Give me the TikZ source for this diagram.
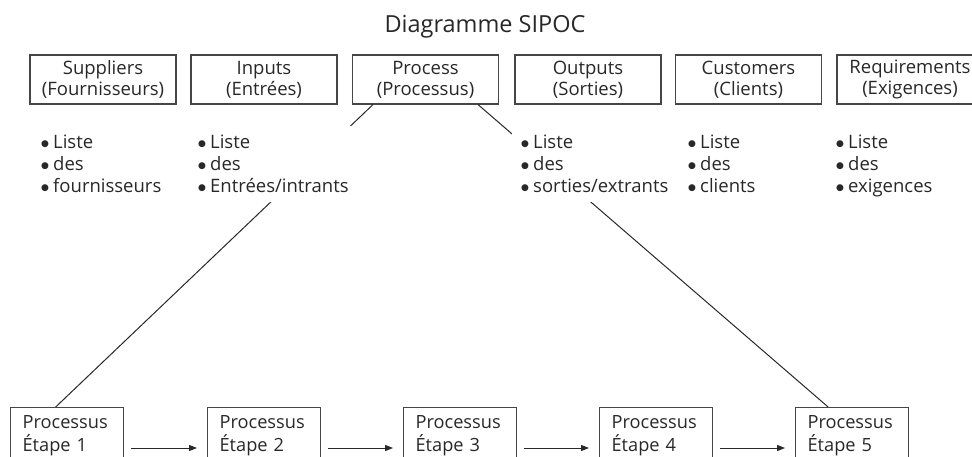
\documentclass[tikz,border=0pt]{standalone}
\usepackage{fontspec}
\setmainfont{Open Sans}
\newfontfamily\dotfont{DejaVu Sans}
\usetikzlibrary{calc,arrows.meta}
\definecolor{ink}{RGB}{40,40,40}
\definecolor{frame}{RGB}{70,70,70}
\newcommand{\bul}{\makebox[12pt][l]{\raisebox{2pt}{\dotfont\fontsize{9}{9}\selectfont ●}}}
\begin{document}
\begin{tikzpicture}[x=1pt,y=-1pt,
  every node/.style={text=ink},
  catbox/.style={draw=frame,line width=1.2pt,minimum width=146pt,minimum height=49pt,
    inner sep=0pt,align=center,font=\fontsize{18.5}{21}\selectfont},
  bullets/.style={anchor=north west,fill=white,inner sep=9pt,align=left,
    font=\fontsize{18.5}{22}\selectfont},
  stepbox/.style={draw=frame,line width=1.2pt,anchor=north west,text width=89pt,
    inner xsep=12pt,inner ysep=8pt,align=left,
    font=\fontsize{18.2}{23}\selectfont},
  link/.style={draw=ink,line width=1pt},
  flow/.style={draw=ink,line width=1pt,-{Triangle[length=8pt,width=6pt]}}]
\useasboundingbox (0,0) rectangle (972,457);
\clip (0,0) rectangle (972,457);

% title
\node[font=\fontsize{23.5}{28}\selectfont] (title) at (485,27) {Diagramme SIPOC};

% SIPOC categories
\node[catbox] (sup) at (103,79.5) {Suppliers\\(Fournisseurs)};
\node[catbox] (inp) at (264,79.5) {Inputs\\(Entrées)};
\node[catbox] (proc) at (425.5,79.5) {Process\\(Processus)};
\node[catbox] (out) at (588,79.5) {Outputs\\(Sorties)};
\node[catbox] (cust) at (748.5,79.5) {Customers\\(Clients)};
\node[catbox] (req) at (910,79.5) {Requirements\\(Exigences)};

% process steps
\node[stepbox] (s1) at (10,407) {Processus\\Étape 1};
\node[stepbox] (s2) at (207,407) {Processus\\Étape 2};
\node[stepbox] (s3) at (403,407) {Processus\\Étape 3};
\node[stepbox] (s4) at (599,407) {Processus\\Étape 4};
\node[stepbox] (s5) at (795,407) {Processus\\Étape 5};

% links from the process box down to the first and last steps
\draw[link] ($(proc.south west)!0.143!(proc.south east)$) -- ($(s1.north west)!0.40!(s1.north east)$);
\draw[link] ($(proc.south west)!0.857!(proc.south east)$) -- ($(s5.north west)!0.29!(s5.north east)$);

% flow between steps
\foreach \a/\b in {s1/s2,s2/s3,s3/s4,s4/s5}
  \draw[flow] ($(\a.north east)+(7,41)$) -- ($(\b.north west)+(-10,41)$);

% bullet lists (white fill hides the links behind them)
\node[bullets] (lsup) at (32,126) {\bul Liste\\\bul des\\\bul fournisseurs};
\node[bullets] (linp) at (189,126) {\bul Liste\\\bul des\\\bul Entrées/intrants};
\node[bullets] (lout) at (512,126) {\bul Liste\\\bul des\\\bul sorties/extrants};
\node[bullets] (lcust) at (679,126) {\bul Liste\\\bul des\\\bul clients};
\node[bullets] (lreq) at (827,126) {\bul Liste\\\bul des\\\bul exigences};
\end{tikzpicture}
\end{document}
